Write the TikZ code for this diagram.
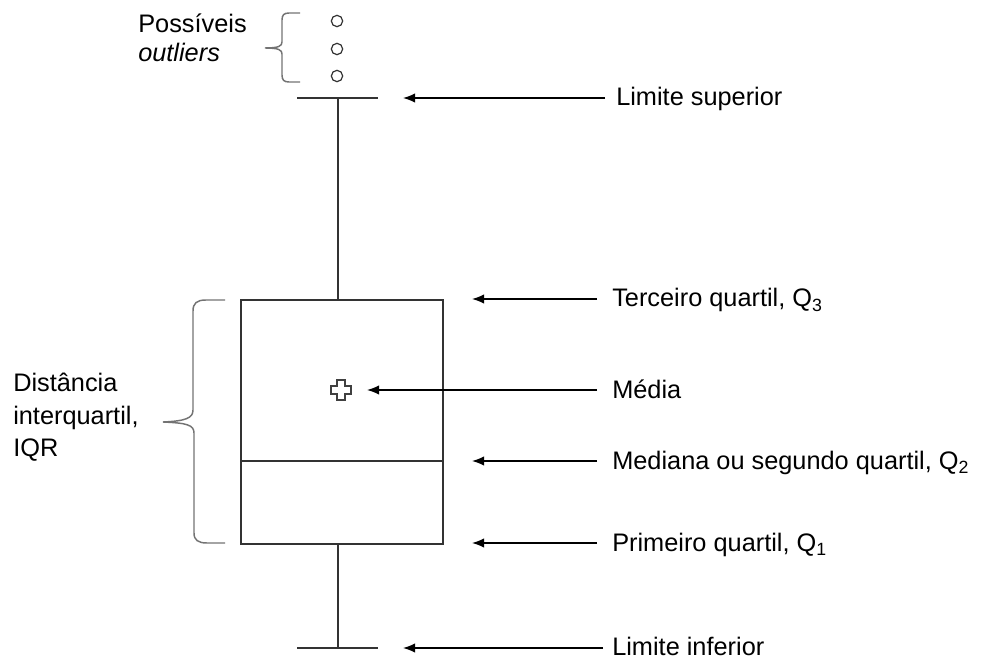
\documentclass[tikz,border=0pt]{standalone}
\usepackage{fontspec}
\setmainfont{Liberation Sans}
\usetikzlibrary{arrows.meta,calc}
\begin{document}
\begin{tikzpicture}[x={(0.75pt,0)},y={(0,-0.75pt)},
  line/.style={draw=black!80,line width=1.2pt},
  ptr/.style={draw=black,line width=1pt,-{Latex[length=9pt,width=7pt]}},
  lab/.style={anchor=base west,inner sep=0pt,font=\fontsize{19}{23}\selectfont},
  brc/.style={draw=black!55,line width=1.1pt},
  outl/.style={circle,draw=black!80,line width=0.9pt,minimum size=8.5pt,inner sep=0pt}]
\useasboundingbox (0,0) rectangle (989,659);
% box
\node[line,draw,minimum width=151.5pt,minimum height=183pt,inner sep=0pt,anchor=north west] (box) at (240,299) {};
\coordinate (medL) at (240,461);
\coordinate (medR) at (442,461);
\draw[line] (medL) -- (medR);
% whiskers
\coordinate (topc) at (338,98);
\coordinate (botc) at (338,648);
\coordinate (boxtop) at (338,299);
\coordinate (boxbot) at (338,543);
\draw[line] (boxtop) -- (topc);
\draw[line] (boxbot) -- (botc);
\coordinate (tcl) at (297,98); \coordinate (tcr) at (378,98);
\coordinate (bcl) at (297,648); \coordinate (bcr) at (378,648);
\draw[line] (tcl) -- (tcr);
\draw[line] (bcl) -- (bcr);
% outliers
\node[outl] (o1) at (337,21) {};
\node[outl] (o2) at (337,49) {};
\node[outl] (o3) at (337,76) {};
% mean plus
\coordinate (mean) at (341,390);
\draw[line width=1pt,draw=black!75] ($(mean)+(-4,-10)$) -- ++(8,0) -- ++(0,6) -- ++(6,0) -- ++(0,8) -- ++(-6,0) -- ++(0,6) -- ++(-8,0) -- ++(0,-6) -- ++(-6,0) -- ++(0,-8) -- ++(6,0) -- cycle;
% braces
\coordinate (b1t) at (300,13); \coordinate (b1m) at (265,48); \coordinate (b1b) at (300,82);
\draw[brc] (b1t) -- (289,13) .. controls (284,13) and (282,15) .. (282,20) -- (282,42)
  .. controls (282,46) and (279,48) .. (b1m) .. controls (279,48) and (282,50) .. (282,54)
  -- (282,75) .. controls (282,80) and (284,82) .. (289,82) -- (b1b);
\coordinate (b2t) at (225,300); \coordinate (b2m) at (163,422); \coordinate (b2b) at (225,543);
\draw[brc] (b2t) -- (206,300) .. controls (197,300) and (193,303) .. (193,311) -- (193,410)
  .. controls (193,418) and (186,421) .. (b2m) .. controls (187,423) and (194,425) .. (194,433)
  -- (194,533) .. controls (194,540) and (198,543) .. (207,543) -- (b2b);
% left labels
\node[lab] (pos1) at (138,33) {Possíveis};
\node[lab] (pos2) at (138,62) {\textit{outliers}};
\node[lab] (iqr1) at (13,391) {Distância};
\node[lab] (iqr2) at (13,424) {interquartil,};
\node[lab] (iqr3) at (13,456) {IQR};
% right labels and arrows
\node[lab] (ls) at (616,106) {Limite superior};
\node[lab] (q3) at (612,307) {Terceiro quartil, Q\textsubscript{3}};
\node[lab] (md) at (612,398) {Média};
\node[lab] (q2) at (612,469) {Mediana ou segundo quartil, Q\textsubscript{2}};
\node[lab] (q1) at (612,551) {Primeiro quartil, Q\textsubscript{1}};
\node[lab] (li) at (612,655) {Limite inferior};
\coordinate (t1) at (605,98);
\coordinate (t2) at (597,299);
\coordinate (t3) at (597,390);
\coordinate (t4) at (597,461);
\coordinate (t5) at (597,543);
\coordinate (t6) at (603,648);
\coordinate (a1) at (403,98);
\coordinate (a2) at (472,299);
\coordinate (a3) at (367,390);
\coordinate (a4) at (472,461);
\coordinate (a5) at (472,543);
\coordinate (a6) at (403,648);
\draw[ptr] (t1) -- (a1);
\draw[ptr] (t2) -- (a2);
\draw[ptr] (t3) -- (a3);
\draw[ptr] (t4) -- (a4);
\draw[ptr] (t5) -- (a5);
\draw[ptr] (t6) -- (a6);
\end{tikzpicture}
\end{document}
